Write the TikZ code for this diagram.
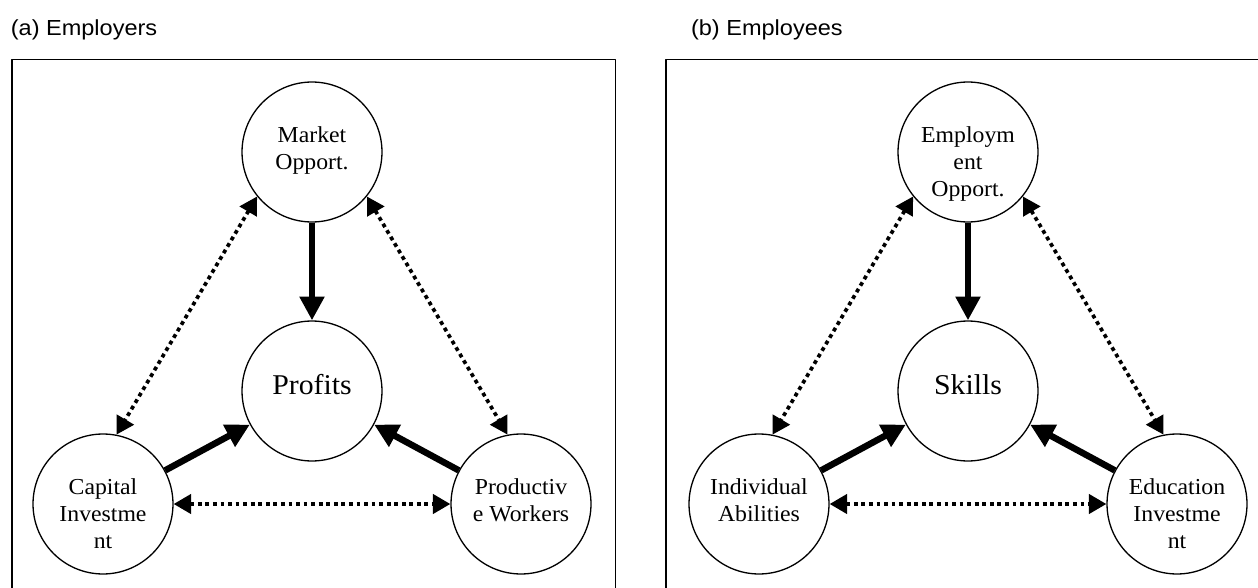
\documentclass[tikz,border=0pt]{standalone}
\usepackage{fontspec}
\setmainfont{Liberation Serif}[FakeStretch=1.04]
\newfontfamily\capfont{Liberation Sans}[FakeStretch=1.08]
\usepackage{tikz}
\usetikzlibrary{arrows.meta}
\newcommand{\bubtext}[2]{\parbox[c][#1][t]{2.3cm}{\centering\strut #2}}
\tikzset{
  bubble/.style={draw, circle, line width=0.75pt, minimum size=2.8cm, inner sep=0pt, font=\fontsize{13}{15.3}\selectfont},
  hub/.style={bubble, font=\fontsize{16.3}{19.2}\selectfont},
  frame/.style={line width=0.85pt},
  paneltitle/.style={anchor=base west, inner sep=0pt, font=\capfont\fontsize{12.4}{14}\selectfont},
  bigarrow/.style={->, line width=3.7pt, >={Triangle[length=13.5pt,width=13.5pt]}},
  dotarrow/.style={<->, line width=2.1pt, dash pattern=on 2.2pt off 2.1pt, >={Triangle[length=10pt,width=11pt]}}
}
\begin{document}
\begin{tikzpicture}[line join=round,x=0.02cm,y=-0.02cm]
\useasboundingbox (0,0) rectangle (1258,588);
\clip (0,0) rectangle (1258,588);
% (a) employers
\node[paneltitle] (ta) at (10.5,36) {(a) Employers};
\draw[frame] (12,620) |- (615.5,59.3) -- (615.5,620);
\node[bubble] (mkt) at (312,152) {\bubtext{1.14cm}{Market\\Opport.}};
\node[hub] (prof) at (312,391) {\bubtext{0.82cm}{Profits}};
\node[bubble] (cap) at (103,504) {\bubtext{1.14cm}{Capital\\Investme\\nt}};
\node[bubble] (prod) at (521,504) {\bubtext{1.14cm}{Productiv\\e Workers}};
\draw[bigarrow] (mkt) -- (prof);
\draw[bigarrow] (cap) -- (prof);
\draw[bigarrow] (prod) -- (prof);
\draw[dotarrow] (mkt.219) -- (cap.79);
\draw[dotarrow] (mkt.321) -- (prod.101);
\draw[dotarrow] (cap) -- (prod);
% (b) employees
\node[paneltitle] (tb) at (690.7,36) {(b) Employees};
\draw[frame] (666,620) |- (1270,59.3) -- (1270,620);
\node[bubble] (emp) at (968,152) {\bubtext{1.14cm}{Employm\\ent\\Opport.}};
\node[hub] (skl) at (968,391) {\bubtext{0.82cm}{Skills}};
\node[bubble] (ind) at (759,504) {\bubtext{1.14cm}{Individual\\Abilities}};
\node[bubble] (edu) at (1177,504) {\bubtext{1.14cm}{Education\\Investme\\nt}};
\draw[bigarrow] (emp) -- (skl);
\draw[bigarrow] (ind) -- (skl);
\draw[bigarrow] (edu) -- (skl);
\draw[dotarrow] (emp.219) -- (ind.79);
\draw[dotarrow] (emp.321) -- (edu.101);
\draw[dotarrow] (ind) -- (edu);
\end{tikzpicture}
\end{document}
